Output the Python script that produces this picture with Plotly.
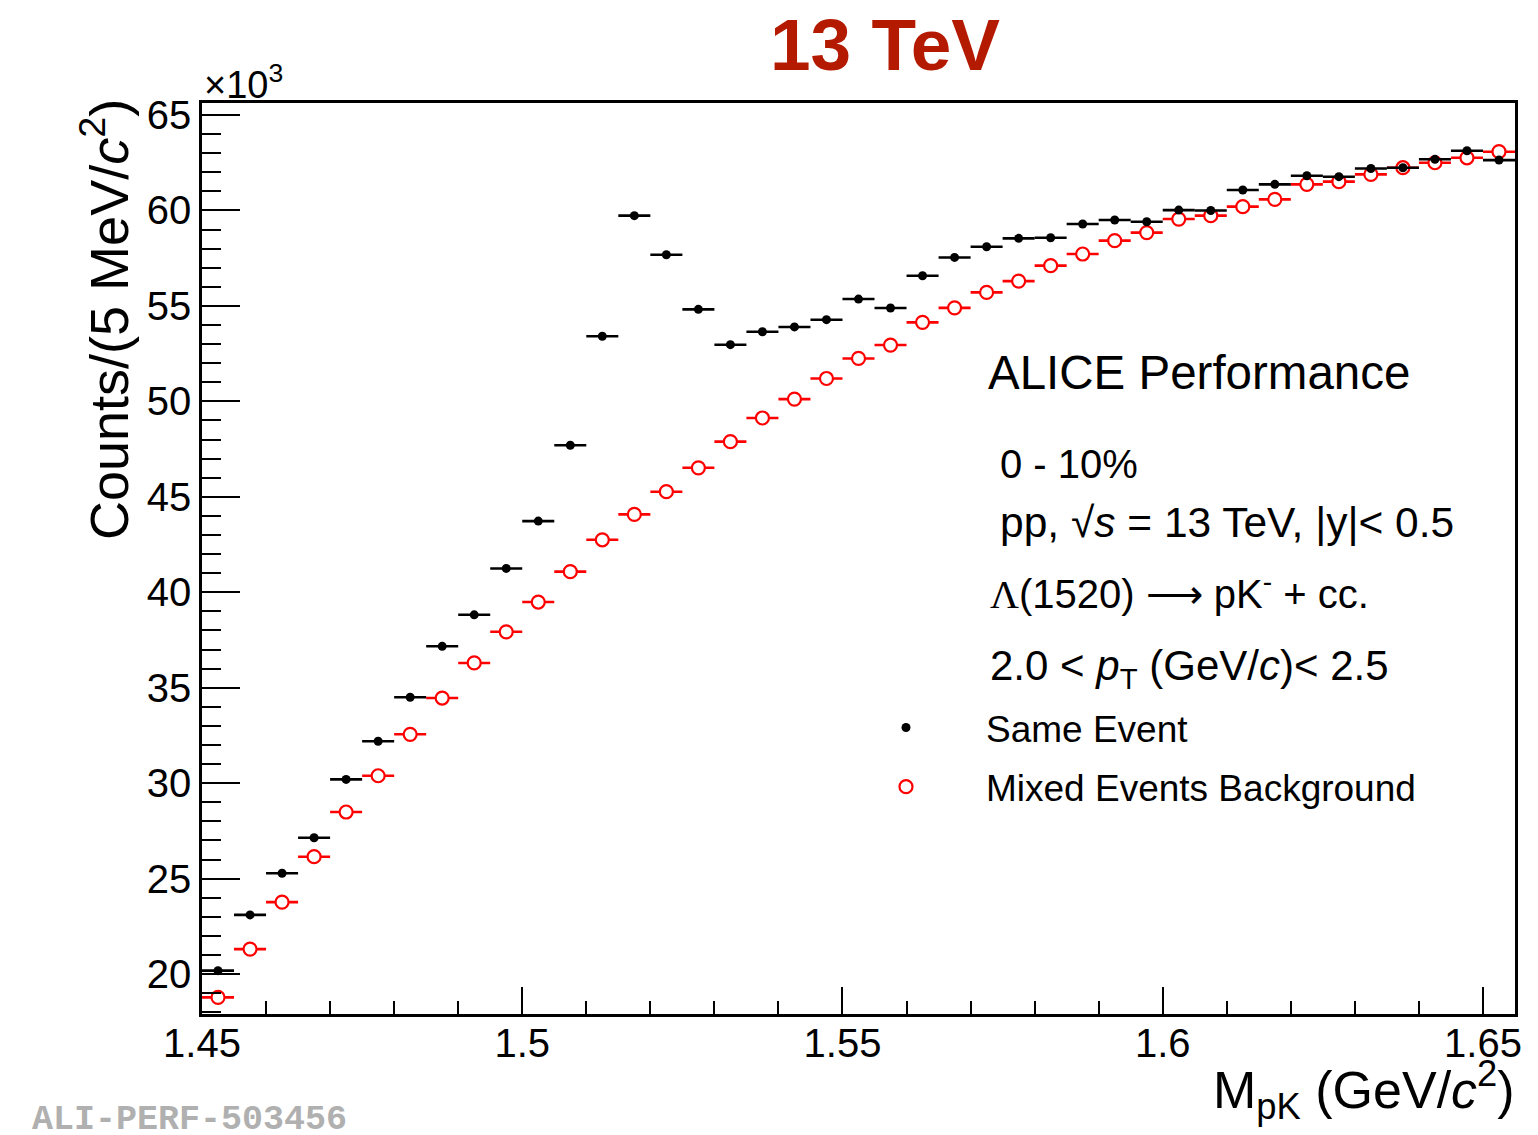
import plotly.graph_objects as go

# Invariant-mass bin centres (GeV/c^2), 5 MeV bins
mass = [1.4525, 1.4575, 1.4625, 1.4675, 1.4725, 1.4775, 1.4825, 1.4875, 1.4925, 1.4975,
        1.5025, 1.5075, 1.5125, 1.5175, 1.5225, 1.5275, 1.5325, 1.5375, 1.5425, 1.5475,
        1.5525, 1.5575, 1.5625, 1.5675, 1.5725, 1.5775, 1.5825, 1.5875, 1.5925, 1.5975,
        1.6025, 1.6075, 1.6125, 1.6175, 1.6225, 1.6275, 1.6325, 1.6375, 1.6425, 1.6475,
        1.6525]
half_bin = 0.0025

# Counts per bin, in units of 10^3
same_event = [20.18, 23.10, 25.28, 27.14, 30.20, 32.20, 34.50, 37.17, 38.82, 41.25,
              43.73, 47.70, 53.41, 59.73, 57.68, 54.82, 52.97, 53.65, 53.90, 54.28,
              55.36, 54.89, 56.58, 57.54, 58.10, 58.54, 58.57, 59.29, 59.50, 59.41,
              60.02, 60.00, 61.07, 61.37, 61.82, 61.77, 62.20, 62.24, 62.68, 63.13,
              62.64]
mixed_event = [18.78, 21.31, 23.77, 26.15, 28.49, 30.39, 32.56, 34.46, 36.30, 37.93,
               39.49, 41.08, 42.75, 44.08, 45.27, 46.52, 47.89, 49.13, 50.12, 51.20,
               52.25, 52.95, 54.14, 54.90, 55.71, 56.30, 57.11, 57.72, 58.42, 58.84,
               59.55, 59.73, 60.20, 60.58, 61.37, 61.51, 61.89, 62.24, 62.50, 62.76,
               63.08]

x_ticks = [1.45, 1.5, 1.55, 1.6, 1.65]
x_tick_text = ["1.45", "1.5", "1.55", "1.6", "1.65"]
y_ticks = [20, 25, 30, 35, 40, 45, 50, 55, 60, 65]

W, H = 1538, 1135
L, R, T, B = 202, 23, 103, 121
PW, PH = W - L - R, H - T - B
FONT = "Liberation Sans, Arial, Helvetica, sans-serif"
SERIF = "Liberation Serif, Times New Roman, serif"


def px(xp):
    return (xp - L) / PW


def py(yp):
    return (H - B - yp) / PH


fig = go.Figure()

fig.add_trace(go.Scatter(
    x=mass, y=mixed_event, mode="markers", name="Mixed Events Background",
    legendrank=2, legendgroup="mixed",
    marker=dict(symbol="circle", size=13, color="white",
                line=dict(color="#ff0000", width=2.2)),
    error_x=dict(type="constant", value=half_bin, width=0, thickness=2.6, color="#ff0000"),
))
fig.add_trace(go.Scatter(
    x=mass, y=same_event, mode="markers", name="Same Event",
    legendrank=1, legendgroup="same",
    marker=dict(symbol="circle", size=9, color="black"),
    error_x=dict(type="constant", value=half_bin, width=0, thickness=2.6, color="black"),
))

axis_common = dict(
    showline=True, linecolor="black", linewidth=2.5, mirror=True,
    ticks="inside", tickcolor="black", tickwidth=2.2,
    showgrid=False, zeroline=False,
    tickfont=dict(family=FONT, size=40, color="black"),
)

fig.update_xaxes(
    range=[1.45, 1.655], tickmode="array", tickvals=x_ticks, ticktext=x_tick_text,
    ticklen=27, ticklabelstandoff=-8,
    minor=dict(ticks="inside", dtick=0.01, tick0=1.45, ticklen=13, tickwidth=2.2,
               tickcolor="black", showgrid=False),
    **axis_common,
)
fig.update_yaxes(
    range=[17.91, 65.63], tickmode="array", tickvals=y_ticks, ticklen=38,
    ticklabelstandoff=0,
    minor=dict(ticks="inside", dtick=1, tick0=0, ticklen=19, tickwidth=2.2,
               tickcolor="black", showgrid=False),
    **axis_common,
)

ann = []


def text(s, xp, yp, size, xanchor="left", yanchor="middle", color="black",
         family=FONT, angle=0):
    ann.append(dict(text=s, x=px(xp), y=py(yp), xref="paper", yref="paper",
                    xanchor=xanchor, yanchor=yanchor, showarrow=False,
                    textangle=angle, font=dict(family=family, size=size, color=color)))


text("<b>13 TeV</b>", 885, 45, 73, xanchor="center", color="#b41a00")
text("×10<sup>3</sup>", 202, 82, 38)
text("Counts/(5 MeV/<i>c</i><sup>2</sup>)", 105, 320, 54, xanchor="center", angle=-90)
text("M<sub>pK</sub> (GeV/<i>c</i><sup>2</sup>)", 1517, 1090, 52, xanchor="right")
text("<b>ALI-PERF-503456</b>", 30, 1120, 35, color="#b0b0b0",
     family="Liberation Mono, Courier New, monospace")

text("ALICE Performance", 986, 372, 47.5)
text("0 - 10%", 998, 464, 40)
text("pp, √<i>s</i> = 13 TeV, |y|< 0.5", 998, 522, 42.5)
text(f"<span style=\"font-family:{SERIF}\">Λ</span>(1520) ⟶ pK<sup>-</sup> + cc.",
     988, 591, 40)
text("2.0 < <i>p</i><sub>T</sub> (GeV/<i>c</i>)< 2.5", 988, 668, 42)

fig.update_layout(
    width=W, height=H,
    margin=dict(l=L, r=R, t=T, b=B, pad=0),
    paper_bgcolor="white", plot_bgcolor="white",
    annotations=ann,
    showlegend=True,
    legend=dict(x=px(826), y=py(697), xanchor="left", yanchor="top",
                bgcolor="rgba(0,0,0,0)", borderwidth=0,
                itemwidth=150, tracegroupgap=8, traceorder="grouped",
                font=dict(family=FONT, size=37, color="black")),
)

fig.write_html("out.html")
